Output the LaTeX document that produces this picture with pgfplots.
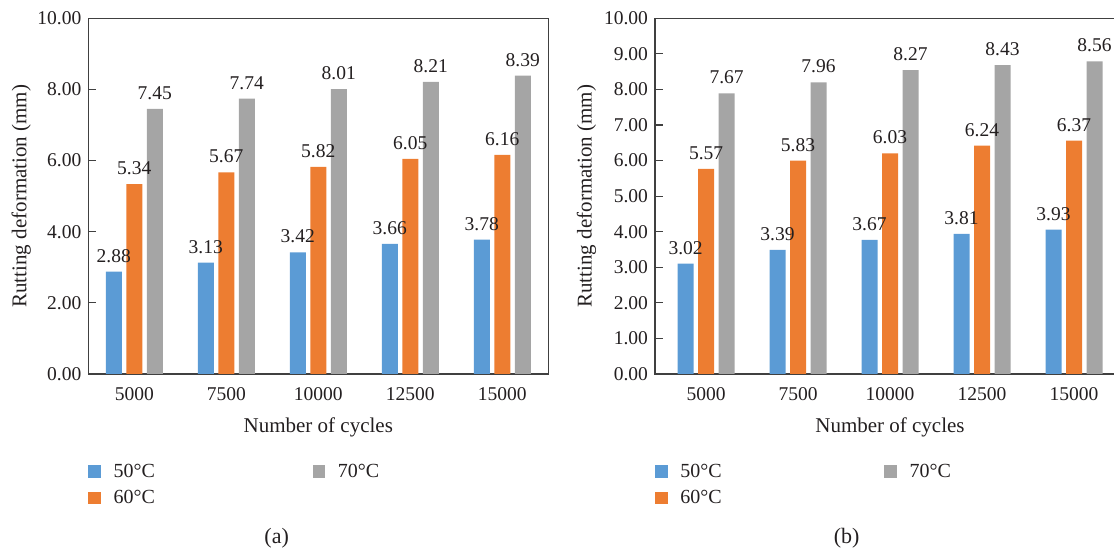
\documentclass[border=0pt]{standalone}
\usepackage{fontspec}
\setmainfont{Liberation Serif}
\usepackage{pgfplots}
\pgfplotsset{compat=1.18}
\definecolor{cBlue}{HTML}{5B9BD5}
\definecolor{cOrange}{HTML}{ED7D31}
\definecolor{cGray}{HTML}{A5A5A5}
\definecolor{cText}{HTML}{231F20}
\newcommand{\fsTick}{\fontsize{19.5}{23}\selectfont}
\newcommand{\fsLab}{\fontsize{21}{25}\selectfont}
\newcommand{\fsLeg}{\fontsize{20}{24}\selectfont}
\pgfplotsset{
  rutstyle/.style={
    ybar=4.5pt, bar width=16pt,
    scale only axis, width=460pt, height=355.7pt,
    ymin=0, ymax=10,
    xtick={0,1,2,3,4}, xticklabels={5000,7500,10000,12500,15000},
    x tick style={draw=none},
    ytick pos=left,
    y tick style={draw=black!75, line width=1.1pt},
    tick align=inside, major tick length=8pt,
    axis line style={draw=black!75, line width=1.2pt},
    /pgf/number format/assume math mode=true,
    yticklabel style={/pgf/number format/fixed, /pgf/number format/fixed zerofill, /pgf/number format/precision=2},
    tick label style={font=\fsTick, text=cText},
    yticklabel style={xshift=-3.5pt},
    xticklabel style={yshift=-10pt},
    xlabel={Number of cycles}, ylabel={Rutting deformation (mm)},
    xlabel style={font=\fsLab, text=cText, at={(axis description cs:0.5,0)}, anchor=north, inner sep=0pt, yshift=-44pt},
    nodes near coords, point meta=explicit symbolic,
    every node near coord/.append style={font=\fsTick, text=cText, inner sep=0pt, anchor=south, yshift=9pt},
    legend image code/.code={\fill[#1,draw=none] (0pt,-6.35pt) rectangle (12.7pt,6.35pt);},
    legend columns=2, transpose legend,
    legend cell align=left,
  },
}
\begin{document}
\begin{tikzpicture}
\path[use as bounding box] (0,0) rectangle (1114pt,548pt);
% ---------------- (a)
\begin{axis}[rutstyle, at={(88.3pt,174pt)}, anchor=south west,
  xmin=-0.5, xmax=4.5, ytick={0,2,4,6,8,10},
  ylabel style={font=\fsLab, text=cText, at={(axis description cs:-0.1457,0.5)}, anchor=center},
  legend style={draw=none, fill=none, at={(axis description cs:0,-0.247)}, anchor=north west,
    inner sep=0pt, outer sep=0pt, font=\fsLeg, text=cText, row sep=8pt,
    /tikz/every odd column/.append style={column sep=10.6pt},
    /tikz/every even column/.append style={column sep=155.6pt}},
]
\addplot[fill=cBlue, draw=none] coordinates {(0,2.88)[2.88] (1,3.13)[3.13] (2,3.42)[3.42] (3,3.66)[3.66] (4,3.78)[3.78]};
\addplot[fill=cOrange, draw=none] coordinates {(0,5.34)[5.34] (1,5.67)[5.67] (2,5.82)[5.82] (3,6.05)[6.05] (4,6.16)[6.16]};
\addplot[fill=cGray, draw=none] coordinates {(0,7.45)[7.45] (1,7.74)[7.74] (2,8.01)[8.01] (3,8.21)[8.21] (4,8.39)[8.39]};
\legend{50°C,60°C,70°C}
\end{axis}
% ---------------- (b)
\begin{axis}[rutstyle, at={(655pt,174pt)}, anchor=south west, width=470pt,
  xmin=-0.555, xmax=4.554, ytick={0,1,...,10},
  ylabel style={font=\fsLab, text=cText, at={(axis description cs:-0.146,0.5)}, anchor=center},
  legend style={draw=none, fill=none, at={(axis description cs:0,-0.247)}, anchor=north west,
    inner sep=0pt, outer sep=0pt, font=\fsLeg, text=cText, row sep=8pt,
    /tikz/every odd column/.append style={column sep=10.6pt},
    /tikz/every even column/.append style={column sep=160.6pt}},
]
\addplot[fill=cBlue, draw=none] coordinates {(0,3.10)[3.02] (1,3.49)[3.39] (2,3.77)[3.67] (3,3.94)[3.81] (4,4.06)[3.93]};
\addplot[fill=cOrange, draw=none] coordinates {(0,5.77)[5.57] (1,6.00)[5.83] (2,6.20)[6.03] (3,6.42)[6.24] (4,6.56)[6.37]};
\addplot[fill=cGray, draw=none] coordinates {(0,7.89)[7.67] (1,8.20)[7.96] (2,8.54)[8.27] (3,8.68)[8.43] (4,8.79)[8.56]};
\legend{50°C,60°C,70°C}
\end{axis}
\node[font=\fontsize{22}{26}\selectfont, text=cText] at (276.7pt,10pt) {(a)};
\node[font=\fontsize{22}{26}\selectfont, text=cText] at (846.7pt,10pt) {(b)};
\end{tikzpicture}
\end{document}
